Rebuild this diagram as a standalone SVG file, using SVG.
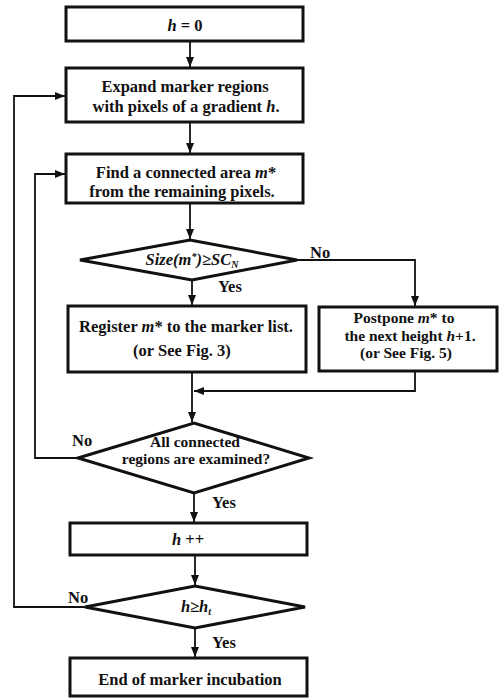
<svg xmlns="http://www.w3.org/2000/svg" width="502" height="698" viewBox="0 0 502 698">
<defs>
<marker id="ah" viewBox="0 0 10 8" refX="10" refY="4" markerWidth="10" markerHeight="8" markerUnits="userSpaceOnUse" orient="auto">
<path d="M0,0 L10,4 L0,8 Z" fill="#111"/>
</marker>
<style>
.box{fill:#fff;stroke:#111;stroke-width:3}
.dia{fill:#fff;stroke:#111;stroke-width:3;stroke-linejoin:miter}
.con{fill:none;stroke:#111;stroke-width:1.8}
text{font-family:"Liberation Serif","Times New Roman",serif;font-weight:bold;font-size:16.5px;fill:#111;text-anchor:middle}
.lbl{text-anchor:start}
.it{font-style:italic}
.sm{font-size:15.5px}
</style>
</defs>
<rect width="502" height="698" fill="#fff"/>
<g id="connectors">
<path class="con" d="M190,41 V67" marker-end="url(#ah)"/>
<path class="con" d="M190,122 V153" marker-end="url(#ah)"/>
<path class="con" d="M190,203 V239" marker-end="url(#ah)"/>
<path class="con" d="M297,260 H415 V306" marker-end="url(#ah)"/>
<path class="con" d="M192,280 V305" marker-end="url(#ah)"/>
<path class="con" d="M415,371 V391 H194" marker-end="url(#ah)"/>
<path class="con" d="M192,372 V422" marker-end="url(#ah)"/>
<path class="con" d="M78,458 H35 V174 H65" marker-end="url(#ah)"/>
<path class="con" d="M194,494 V522" marker-end="url(#ah)"/>
<path class="con" d="M195,555 V585" marker-end="url(#ah)"/>
<path class="con" d="M85,607 H14 V96 H65" marker-end="url(#ah)"/>
<path class="con" d="M195,628 V657" marker-end="url(#ah)"/>
<text class="lbl" x="310" y="258">No</text>
<text class="lbl" x="218" y="292">Yes</text>
<text class="lbl" x="72" y="446">No</text>
<text class="lbl" x="212" y="508">Yes</text>
<text class="lbl" x="68" y="603">No</text>
<text class="lbl" x="212" y="648">Yes</text>
</g>
<g id="n1">
<rect class="box" x="66" y="7" width="237" height="34"/>
<text x="185" y="31"><tspan class="it">h</tspan> = 0</text>
</g>
<g id="n2">
<rect class="box" x="66" y="68" width="237" height="54"/>
<text x="185" y="92">Expand marker regions</text>
<text x="186" y="112">with pixels of a gradient <tspan class="it">h</tspan>.</text>
</g>
<g id="n3">
<rect class="box" x="66" y="154" width="237" height="49"/>
<text x="186" y="178">Find a connected area <tspan class="it">m</tspan>*</text>
<text x="182" y="197">from the remaining pixels.</text>
</g>
<g id="d1">
<polygon class="dia" points="80,260 190,240 297,260 192,280"/>
<text class="it" x="192" y="265" style="font-size:16.5px">Size(m<tspan dy="-5" style="font-size:10px">*</tspan><tspan dy="5">)≥SC</tspan><tspan dy="3" style="font-size:10px">N</tspan></text>
</g>
<g id="n4">
<rect class="box" x="68" y="306" width="238" height="66"/>
<text x="186" y="332">Register <tspan class="it">m</tspan>* to the marker list.</text>
<text x="182" y="356">(or See Fig. 3)</text>
</g>
<g id="n5">
<rect class="box" x="319" y="307" width="178" height="64"/>
<text class="sm" x="404" y="323">Postpone <tspan class="it">m</tspan>* to</text>
<text class="sm" x="410" y="340.5">the next height <tspan class="it">h</tspan>+1.</text>
<text class="sm" x="406" y="358">(or See Fig. 5)</text>
</g>
<g id="d2">
<polygon class="dia" points="78,458 194,423 309,458 194,493"/>
<text class="sm" x="195" y="447">All connected</text>
<text class="sm" x="196" y="464">regions are examined?</text>
</g>
<g id="n6">
<rect class="box" x="70" y="523" width="237" height="32"/>
<text x="188" y="545"><tspan class="it">h</tspan> ++</text>
</g>
<g id="d3">
<polygon class="dia" points="85,607 195,586 305,607 195,628"/>
<text class="it" x="196" y="612">h≥h<tspan dy="3" style="font-size:10px">t</tspan></text>
</g>
<g id="n7">
<rect class="box" x="70" y="658" width="237" height="38"/>
<text x="190" y="685">End of marker incubation</text>
</g>
</svg>
